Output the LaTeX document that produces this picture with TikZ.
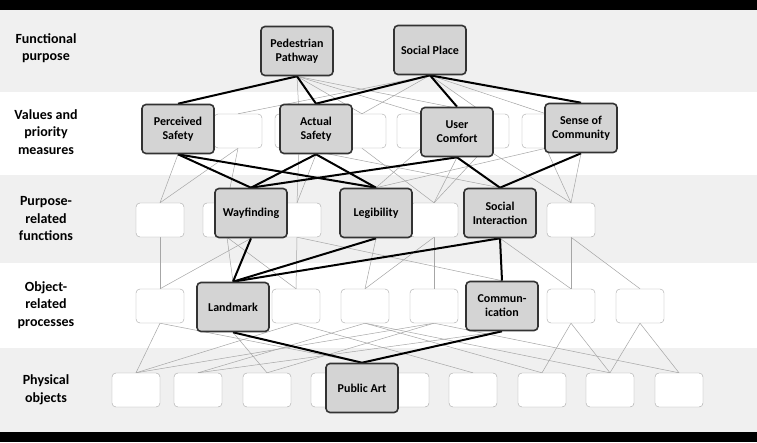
\documentclass[tikz,border=0pt]{standalone}
\usepackage{fontspec}
\setmainfont{Carlito}
\pgfdeclarelayer{bands}
\pgfdeclarelayer{thinl}
\pgfdeclarelayer{thickl}
\pgfdeclarelayer{front}
\pgfsetlayers{bands,thinl,main,thickl,front}
\tikzset{
  wbox/.style={draw=black!35,fill=white,rounded corners=4pt,minimum width=48pt,minimum height=34pt},
  gbox/.style={draw=black!80,line width=1.6pt,fill=black!17,rounded corners=4pt,minimum width=72pt,minimum height=49pt,align=center,font=\bfseries\fontsize{12}{14}\selectfont},
  lbl/.style={align=center,font=\bfseries\fontsize{14}{17.5}\selectfont},
  thin/.style={draw=black!35,line width=0.5pt},
  strong/.style={draw=black,line width=2pt}
}
\begin{document}
\begin{tikzpicture}[x=1pt,y=-1pt]
\useasboundingbox (0,0) rectangle (757,442);
\begin{pgfonlayer}{bands}
\fill[black] (0,0) rectangle (757,10);
\fill[black] (0,432) rectangle (757,442);
\fill[black!6] (0,10) rectangle (757,92);
\fill[white] (0,92) rectangle (757,175);
\fill[black!6] (0,175) rectangle (757,263);
\fill[white] (0,263) rectangle (757,348);
\fill[black!6] (0,348) rectangle (757,432);
\end{pgfonlayer}
% row labels
\node[lbl] (l1) at (46,48) {Functional\\purpose};
\node[lbl] (l2) at (46,132) {Values and\\priority\\measures};
\node[lbl] (l3) at (46,219) {Purpose-\\related\\functions};
\node[lbl] (l4) at (46,305) {Object-\\related\\processes};
\node[lbl] (l5) at (46,390) {Physical\\objects};
% white boxes
\foreach \n/\x in {v1/238,v2/299,v3/362,v4/421,v5/485,v6/546}
  \node[wbox] (\n) at (\x,131) {};
\foreach \n/\x in {f1/160,f2/227,f3/297,f4/434,f5/571}
  \node[wbox] (\n) at (\x,220) {};
\foreach \n/\x in {o1/160,o2/296,o3/365,o4/434,o5/571,o6/640}
  \node[wbox] (\n) at (\x,306) {};
\foreach \n/\x in {p1/136,p2/198,p3/267,p4/335,p5/405,p6/473,p7/542,p8/610,p9/679}
  \node[wbox] (\n) at (\x,390) {};
% highlighted boxes
\begin{pgfonlayer}{front}
\node[gbox] (ped) at (297,51) {Pedestrian\\Pathway};
\node[gbox] (sp) at (430,50) {Social Place};
\node[gbox] (ps) at (178,129) {Perceived\\Safety};
\node[gbox] (as) at (316,129) {Actual\\Safety};
\node[gbox] (uc) at (457,132) {User\\Comfort};
\node[gbox] (sc) at (581,128) {Sense of\\Community};
\node[gbox] (way) at (251,213) {Wayfinding};
\node[gbox] (leg) at (376,213) {Legibility};
\node[gbox] (si) at (500,213) {Social\\Interaction};
\node[gbox] (lm) at (233,307) {Landmark};
\node[gbox] (com) at (502,306) {Commun-\\ication};
\node[gbox] (pa) at (362,388) {Public Art};
\end{pgfonlayer}
% thin links
\begin{pgfonlayer}{thinl}
\foreach \a/\b in {ped/v4,ped/v3,ped/v2,sp/v1,sp/v3,sp/v5,sp/v6,ped/v5,
  v1/f1,v1/f2,v2/f3,v3/f4,v5/f4,v5/f5,v6/f5,ps/f1,as/f3,uc/f4,sc/f5,v4/leg,v2/si,v6/leg,
  f1/o1,f2/o2,f3/o2,f4/o4,f5/o5,f5/o6,f4/o3,way/o1,leg/o3,si/o5,f2/lm,f3/com,
  o1/p1,o1/pa,o2/p1,o2/p6,o3/p2,o3/p7,o4/p1,o4/p3,o5/p7,o5/p8,o6/p8,o6/p9,lm/p3,com/p2,o3/p8,o4/p9}
  \draw[thin] (\a.south) -- (\b.north);
\end{pgfonlayer}
% strong links
\begin{pgfonlayer}{thickl}
\foreach \a/\b in {ped/ps,ped/as,sp/as,sp/uc,sp/sc,ps/way,ps/leg,as/way,as/leg,
  uc/way,uc/si,sc/si,way/lm,leg/lm,si/lm,si/com,lm/pa,com/pa}
  \draw[strong] (\a.south) -- (\b.north);
\end{pgfonlayer}
\end{tikzpicture}
\end{document}
